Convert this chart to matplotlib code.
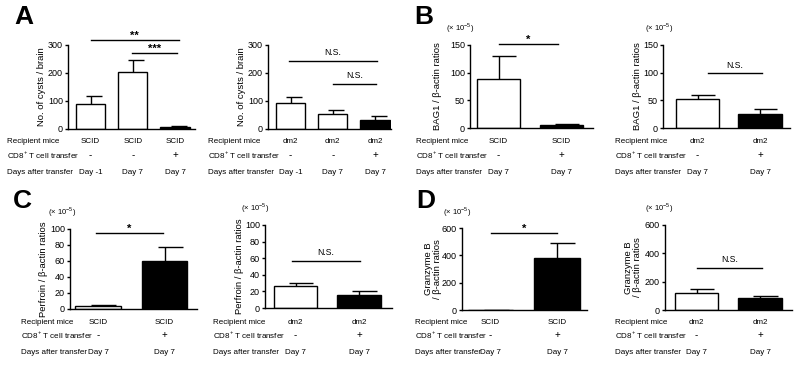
import matplotlib.pyplot as plt
from matplotlib.transforms import blended_transform_factory

plt.rcParams['font.family'] = ['Liberation Sans', 'DejaVu Sans']

W, H = 800, 365

# ---------------------------------------
# Values
# ---------------------------------------
row_names = ['Recipient mice', r'CD8$^{\mathregular{+}}$ T cell transfer',
             'Days after transfer']

a_left_mice = ['SCID', 'SCID', 'SCID']
a_left_cd8 = ['-', '-', '+']
a_left_days = ['Day -1', 'Day 7', 'Day 7']
a_left_mean = [89, 205, 7]
a_left_err = [30, 41, 3]
a_left_sig = ['**', '***']
a_left_sig_y = [318, 270]

a_right_mice = ['dm2', 'dm2', 'dm2']
a_right_cd8 = ['-', '-', '+']
a_right_days = ['Day -1', 'Day 7', 'Day 7']
a_right_mean = [92, 53, 31]
a_right_err = [21, 16, 15]
a_right_sig = ['N.S.', 'N.S.']
a_right_sig_y = [243, 161]

b_left_mice = ['SCID', 'SCID']
b_left_cd8 = ['-', '+']
b_left_days = ['Day 7', 'Day 7']
b_left_mean = [89, 5]
b_left_err = [41, 1.5]
b_left_sig = ['*']
b_left_sig_y = [152]

b_right_mice = ['dm2', 'dm2']
b_right_cd8 = ['-', '+']
b_right_days = ['Day 7', 'Day 7']
b_right_mean = [53, 26]
b_right_err = [7, 9]
b_right_sig = ['N.S.']
b_right_sig_y = [99]

c_left_mice = ['SCID', 'SCID']
c_left_cd8 = ['-', '+']
c_left_days = ['Day 7', 'Day 7']
c_left_mean = [4, 60]
c_left_err = [1, 17]
c_left_sig = ['*']
c_left_sig_y = [95]

c_right_mice = ['dm2', 'dm2']
c_right_cd8 = ['-', '+']
c_right_days = ['Day 7', 'Day 7']
c_right_mean = [27, 15.5]
c_right_err = [3, 5]
c_right_sig = ['N.S.']
c_right_sig_y = [57]

d_left_mice = ['SCID', 'SCID']
d_left_cd8 = ['-', '+']
d_left_days = ['Day 7', 'Day 7']
d_left_mean = [2, 378]
d_left_err = [1, 110]
d_left_sig = ['*']
d_left_sig_y = [563]

d_right_mice = ['dm2', 'dm2']
d_right_cd8 = ['-', '+']
d_right_days = ['Day 7', 'Day 7']
d_right_mean = [122, 83]
d_right_err = [24, 18]
d_right_sig = ['N.S.']
d_right_sig_y = [299]

cysts_label = 'No. of cysts / brain'
bag1_label = 'BAG1 / \u03b2-actin ratios'
perf_label = 'Perfroin / \u03b2-actin ratios'
gzmb_label = 'Granzyme B\n/ \u03b2-actin ratios'
scale_label = '(\u00d7 10' + r'$^{\mathregular{-5}}$)'


def fx(x):
    return x / W


def fy(y):
    return 1 - y / H


def bar_panel(fig, box, c0, sp, mice, cd8, days, mean, err, yticks, ylabel,
              ylab_x, rows_y, row_x, sig, sig_y, spans, scale_pos=None):
    x0, x1, ytop, ybot = box
    ax = fig.add_axes([fx(x0), fy(ybot), (x1 - x0) / W, (ybot - ytop) / H])
    xs = list(range(len(mean)))
    w = 0.69
    fills = ['black' if c == '+' else 'white' for c in cd8]
    ax.bar(xs, mean, w, color=fills, edgecolor='black', linewidth=1.0, zorder=2)
    tops = [m + e for m, e in zip(mean, err)]
    ax.vlines(xs, mean, tops, color='black', lw=1.0, zorder=1)
    ax.hlines(tops, [x - 0.15 * w for x in xs], [x + 0.40 * w for x in xs],
              color='black', lw=1.0, zorder=1)

    ax.set_xlim(-(c0 - x0) / sp, (x1 - c0) / sp)
    ax.set_ylim(0, yticks[-1])
    ax.set_yticks(yticks)
    ax.set_xticks([])
    for s in ('top', 'right'):
        ax.spines[s].set_visible(False)
    for s in ('left', 'bottom'):
        ax.spines[s].set_linewidth(1.0)
    ax.tick_params(axis='y', direction='out', length=2.5, width=1.0,
                   labelsize=6.5, pad=1.2)
    ax.patch.set_alpha(0)

    fig.text(fx(ylab_x), fy((ytop + ybot) / 2), ylabel, rotation=90,
             ha='center', va='center', fontsize=6.8, linespacing=1.05)

    # significance bars
    for lab, yv, (sa, sb) in zip(sig, sig_y, spans):
        ax.plot([sa, sb], [yv, yv], color='black', lw=1.0, clip_on=False)
        if lab == 'N.S.':
            ax.annotate(lab, ((sa + sb) / 2, yv), xytext=(0, 2.5),
                        textcoords='offset points', ha='center', va='bottom',
                        fontsize=6.2, annotation_clip=False)
        else:
            ax.annotate(lab, ((sa + sb) / 2, yv), xytext=(0, -0.5),
                        textcoords='offset points', ha='center', va='bottom',
                        fontsize=8, fontweight='bold', annotation_clip=False)

    # category rows under the axis
    trans = blended_transform_factory(ax.transData, fig.transFigure)
    for name, vals, ry in zip(row_names, (mice, cd8, days), rows_y):
        fig.text(fx(row_x), fy(ry), name, ha='left', va='center', fontsize=5.8)
        for x, v in zip(xs, vals):
            fs = 7 if v in ('-', '+') else 5.8
            ax.text(x, fy(ry), v, transform=trans, ha='center', va='center',
                    fontsize=fs, clip_on=False)

    if scale_pos is not None:
        fig.text(fx(scale_pos[0]), fy(scale_pos[1]), scale_label,
                 ha='left', va='center', fontsize=5.5)
    return ax


fig = plt.figure(figsize=(8, 3.65), dpi=100)

rows_top = (141, 155, 172)
rows_bot = (322, 335, 352)

# A
bar_panel(fig, (68, 195, 45, 129), 90.5, 42.25, a_left_mice, a_left_cd8,
          a_left_days, a_left_mean, a_left_err, [0, 100, 200, 300],
          cysts_label, 41, rows_top, 7, a_left_sig, a_left_sig_y,
          [(0, 2.09), (0.98, 2.05)])
bar_panel(fig, (268, 391, 45, 129), 290.5, 42.25, a_right_mice, a_right_cd8,
          a_right_days, a_right_mean, a_right_err, [0, 100, 200, 300],
          cysts_label, 241, rows_top, 208, a_right_sig, a_right_sig_y,
          [(-0.04, 2.04), (1.0, 2.02)])

# B
bar_panel(fig, (470, 593, 45, 128), 498.5, 63, b_left_mice, b_left_cd8,
          b_left_days, b_left_mean, b_left_err, [0, 50, 100, 150],
          bag1_label, 438, rows_top, 416, b_left_sig, b_left_sig_y,
          [(0, 0.94)], scale_pos=(446, 28))
bar_panel(fig, (663, 790, 45, 128), 697.5, 62.5, b_right_mice, b_right_cd8,
          b_right_days, b_right_mean, b_right_err, [0, 50, 100, 150],
          bag1_label, 638, rows_top, 615, b_right_sig, b_right_sig_y,
          [(0.17, 1.03)], scale_pos=(645, 28))

# C
bar_panel(fig, (70, 197, 229, 309), 98, 66.5, c_left_mice, c_left_cd8,
          c_left_days, c_left_mean, c_left_err, [0, 20, 40, 60, 80, 100],
          perf_label, 44, rows_bot, 21, c_left_sig, c_left_sig_y,
          [(-0.03, 0.98)], scale_pos=(48, 212))
bar_panel(fig, (265, 392, 225, 308), 295.5, 63.5, c_right_mice, c_right_cd8,
          c_right_days, c_right_mean, c_right_err, [0, 20, 40, 60, 80, 100],
          perf_label, 239, rows_bot, 213, c_right_sig, c_right_sig_y,
          [(-0.06, 1.02)], scale_pos=(241, 208))

# D
bar_panel(fig, (462, 587, 228, 310), 490.5, 66.5, d_left_mice, d_left_cd8,
          d_left_days, d_left_mean, d_left_err, [0, 200, 400, 600],
          gzmb_label, 433, rows_bot, 415, d_left_sig, d_left_sig_y,
          [(0, 1.0)], scale_pos=(443, 212))
bar_panel(fig, (665, 792, 225, 310), 696.5, 63.5, d_right_mice, d_right_cd8,
          d_right_days, d_right_mean, d_right_err, [0, 200, 400, 600],
          gzmb_label, 633, rows_bot, 615, d_right_sig, d_right_sig_y,
          [(0, 1.03)], scale_pos=(645, 208))

# panel letters
for letter, (lx, ly) in zip('ABCD', [(14, 5), (414, 5), (13, 189), (416, 189)]):
    fig.text(fx(lx), fy(ly), letter, ha='left', va='top', fontsize=19,
             fontweight='bold')

fig.savefig('out.png', dpi=100)
